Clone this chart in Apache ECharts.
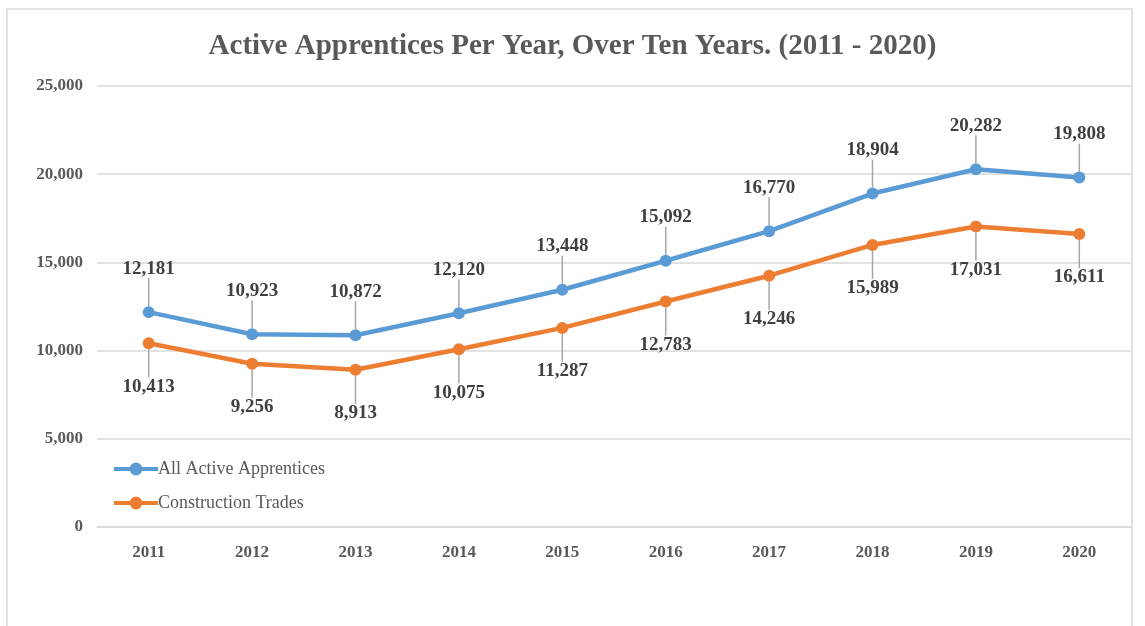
<!DOCTYPE html>
<html><head><meta charset="utf-8">
<script src="https://cdn.jsdelivr.net/npm/echarts@6/dist/echarts.min.js"></script>
<style>html,body{margin:0;padding:0;background:#fff}#c{width:1145px;height:626px}</style>
</head><body><div id="c"></div>
<script>
const years = ['2011','2012','2013','2014','2015','2016','2017','2018','2019','2020'];
const allActive = [12181,10923,10872,12120,13448,15092,16770,18904,20282,19808];
const construction = [10413,9256,8913,10075,11287,12783,14246,15989,17031,16611];
const yTicks = {min:0, max:25000, interval:5000};

const serif = '"Liberation Serif","Times New Roman",serif';
const chart = echarts.init(document.getElementById('c'));
chart.setOption({
  backgroundColor:'#fff',
  animation:false,
  graphic:[{type:'rect',shape:{x:7,y:9,width:1125,height:640},style:{fill:'none',stroke:'#d9d9d9',lineWidth:1.5},silent:true}],
  title:{text:'Active Apprentices Per Year, Over Ten Years. (2011 - 2020)',left:'center',top:27,
    textStyle:{fontFamily:serif,fontSize:29,fontWeight:'bold',color:'#595959'}},
  legend:{orient:'vertical',left:107,top:455,itemGap:16,itemWidth:44,itemHeight:16,
    lineStyle:{width:4},
    textStyle:{fontFamily:serif,fontSize:18,color:'#595959',padding:[0,0,0,-5]},
    data:['All Active Apprentices','Construction Trades']},
  grid:{left:97,right:14,top:86,bottom:99},
  xAxis:{type:'category',data:years,boundaryGap:true,
    axisLine:{show:true,lineStyle:{color:'#d9d9d9',width:1.5}},axisTick:{show:false},
    axisLabel:{margin:17,fontFamily:serif,fontSize:17,fontWeight:'bold',color:'#595959'}},
  yAxis:{type:'value',min:yTicks.min,max:yTicks.max,interval:yTicks.interval,
    axisLine:{show:false},axisTick:{show:false},
    splitLine:{lineStyle:{color:'#d9d9d9',width:1.5}},
    axisLabel:{margin:14,fontFamily:serif,fontSize:17,fontWeight:'bold',color:'#595959',
      formatter:v=>v.toLocaleString('en-US')}},
  series:[
    {name:'All Active Apprentices',type:'line',data:allActive,symbol:'circle',symbolSize:12,
      itemStyle:{color:'#5B9BD5'},lineStyle:{width:4.5,color:'#5B9BD5'},
      label:{show:true,position:'top',distance:8,fontFamily:serif,fontSize:19,fontWeight:'bold',color:'#404040',
        formatter:p=>p.value.toLocaleString('en-US')},
      labelLayout:{dy:-20},
      labelLine:{show:true,lineStyle:{color:'#a6a6a6',width:1.5}}},
    {name:'Construction Trades',type:'line',data:construction,symbol:'circle',symbolSize:12,
      itemStyle:{color:'#ED7D31'},lineStyle:{width:4.5,color:'#ED7D31'},
      label:{show:true,position:'bottom',distance:8,fontFamily:serif,fontSize:19,fontWeight:'bold',color:'#404040',
        formatter:p=>p.value.toLocaleString('en-US')},
      labelLayout:{dy:20},
      labelLine:{show:true,lineStyle:{color:'#a6a6a6',width:1.5}}}
  ]
});
</script></body></html>
